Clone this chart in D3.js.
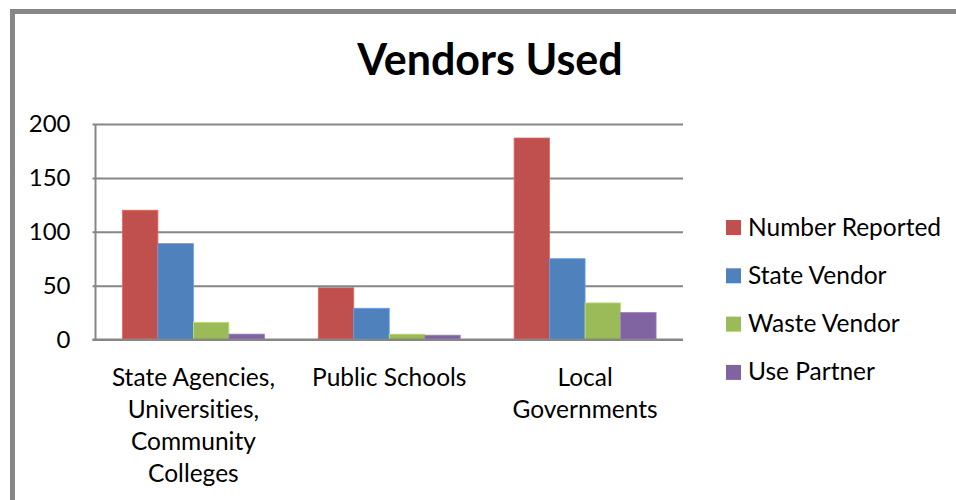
<!DOCTYPE html>
<html>
<head>
<meta charset="utf-8">
<script src="https://cdn.jsdelivr.net/npm/d3@7/dist/d3.min.js"></script>
<style>
  html, body { margin: 0; padding: 0; background: #fff; }
  svg { display: block; font-family: Lato, "Open Sans", sans-serif; font-variant-ligatures: none; }
</style>
</head>
<body>
<svg id="chart" width="956" height="500"></svg>
<script>
// Vendors used, by organisation type
const categories = [
  ["State Agencies,", "Universities,", "Community", "Colleges"],
  ["Public Schools"],
  ["Local", "Governments"]
];
const categoryKeys = ["State Agencies", "Public Schools", "Local Governments"];
const seriesNames = ["Number Reported", "State Vendor", "Waste Vendor", "Use Partner"];
const numberReported = [120, 48, 187];
const stateVendor = [89, 29, 75];
const wasteVendor = [16, 5, 34];
const usePartner = [5, 4, 25];
const yTicks = [0, 50, 100, 150, 200];
const colors = ["#C0504D", "#4F81BD", "#9BBB59", "#8064A2"];

const seriesValues = [numberReported, stateVendor, wasteVendor, usePartner];
const rows = categoryKeys.map((k, i) => ({
  key: k,
  lines: categories[i],
  values: seriesNames.map((s, j) => ({ series: s, idx: j, value: seriesValues[j][i] }))
}));

const svg = d3.select("#chart");

// outer frame (runs off the right and bottom edges)
svg.append("rect")
  .attr("x", 12.5).attr("y", 11.5)
  .attr("width", 1000).attr("height", 600)
  .attr("fill", "#fff")
  .attr("stroke", "#878787")
  .attr("stroke-width", 5);

const plot = { left: 95.5, right: 683, top: 124, bottom: 339.5 };

const y = d3.scaleLinear().domain([0, 200]).range([plot.bottom, plot.top]);
const x0 = d3.scaleBand().domain(categoryKeys).range([plot.left, plot.right]).padding(0);
const bw = x0.bandwidth();
const x1 = d3.scaleBand().domain(seriesNames)
  .range([bw * 0.1375, bw * 0.8625]).padding(0);

// title
svg.append("text")
  .attr("x", 490).attr("y", 75)
  .attr("text-anchor", "middle")
  .attr("font-size", 43)
  .attr("font-weight", "bold")
  .attr("fill", "#000")
  .text("Vendors Used");

// gridlines
const yAxis = d3.axisLeft(y).tickValues(yTicks).tickSize(-(plot.right - plot.left)).tickPadding(24).tickFormat(d3.format("d"));
const gy = svg.append("g")
  .attr("transform", `translate(${plot.left},0)`)
  .call(yAxis);
gy.select(".domain").remove();
gy.selectAll(".tick line")
  .attr("stroke", "#868686")
  .attr("stroke-width", 2)
  .attr("x1", -3);
gy.selectAll(".tick text")
  .attr("font-family", "Lato, sans-serif")
  .attr("font-size", 24)
  .attr("fill", "#000")
  .attr("x", -25);

// bars
const groups = svg.append("g").selectAll("g")
  .data(rows)
  .join("g")
  .attr("transform", d => `translate(${x0(d.key)},0)`);

groups.selectAll("rect")
  .data(d => d.values)
  .join("rect")
  .attr("x", d => x1(d.series))
  .attr("y", d => y(d.value))
  .attr("width", x1.bandwidth())
  .attr("height", d => y(0) - y(d.value))
  .attr("fill", d => colors[d.idx])
  .attr("stroke", d => d3.color(colors[d.idx]).brighter(0.6))
  .attr("stroke-width", 0.8);

// value axis line and category baseline
svg.append("line")
  .attr("x1", plot.left).attr("x2", plot.left)
  .attr("y1", plot.top).attr("y2", plot.bottom)
  .attr("stroke", "#868686").attr("stroke-width", 2);
svg.append("line")
  .attr("x1", plot.left - 3).attr("x2", plot.right)
  .attr("y1", plot.bottom).attr("y2", plot.bottom)
  .attr("stroke", "#868686").attr("stroke-width", 2);

// category labels
const cat = svg.append("g").selectAll("text")
  .data(rows)
  .join("text")
  .attr("text-anchor", "middle")
  .attr("font-size", 24.5)
  .attr("fill", "#000")
  .attr("x", d => x0(d.key) + bw / 2)
  .attr("y", 386);
cat.selectAll("tspan")
  .data(d => d.lines.map(l => ({ l, x: x0(d.key) + bw / 2 })))
  .join("tspan")
  .attr("x", d => d.x)
  .attr("dy", (d, i) => i === 0 ? 0 : 32)
  .text(d => d.l);

// legend
const legend = svg.append("g").selectAll("g")
  .data(seriesNames)
  .join("g")
  .attr("transform", (d, i) => `translate(726,${220 + i * 48.3})`);
legend.append("rect")
  .attr("width", 15).attr("height", 15)
  .attr("fill", (d, i) => colors[i]);
legend.append("text")
  .attr("x", 22).attr("y", 15.5)
  .attr("font-size", 24.5)
  .attr("fill", "#000")
  .text(d => d);
</script>
</body>
</html>
